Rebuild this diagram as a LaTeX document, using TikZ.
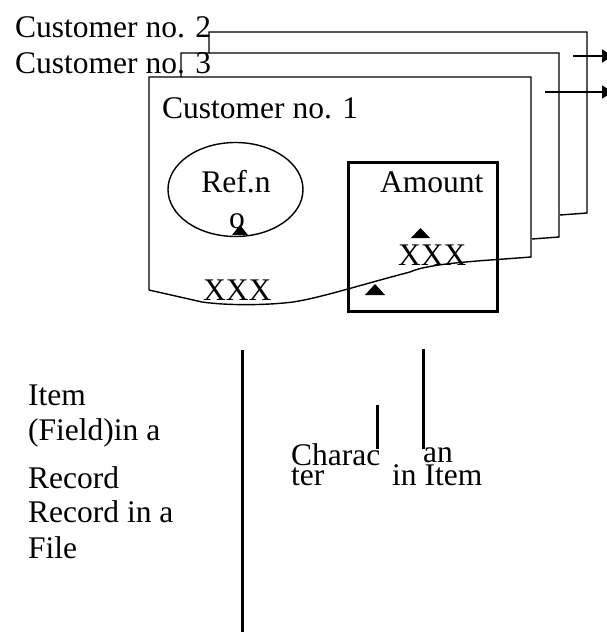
\documentclass[tikz,border=0pt]{standalone}
\usepackage{fontspec}
\setmainfont{Liberation Serif}
\usetikzlibrary{arrows.meta,shapes.geometric}
\tikzset{
  lbl/.style={anchor=base west,inner sep=0pt,font=\fontsize{31.5}{31.5}\selectfont},
  clbl/.style={anchor=base,inner sep=0pt,font=\fontsize{31.5}{31.5}\selectfont},
  tight/.style={anchor=base west,inner sep=0pt,align=left,font=\fontsize{31.5}{20}\selectfont},
  cardline/.style={line width=1.4pt,line join=miter},
  thickline/.style={line width=3pt},
  tri/.style={fill=black,draw=none},
  arr/.style={line width=1.4pt,-{Triangle[length=11pt,width=13pt]}}
}
\begin{document}
\begin{tikzpicture}[x=1pt,y=-1pt]
\useasboundingbox (0,0) rectangle (607,632);
% back cards
\draw[cardline] (209,53) -- (209,32) -- (587,32) -- (587,213) -- (560,215);
\draw[cardline] (181,77) -- (181,53) -- (559,53) -- (559,237) -- (532,239);
% front card
\draw[cardline] (149,290) -- (149,77) -- (531,77) -- (531,257)
  .. controls (480,261) and (430,263) .. (410,272)
  .. controls (360,285) and (320,298) .. (293,302)
  .. controls (270,305) and (230,306) .. (202,302)
  -- (149,290);
% arrows
\coordinate (a1s) at (573,56); \coordinate (a1e) at (613,56);
\coordinate (a2s) at (545,92); \coordinate (a2e) at (613,92);
\draw[arr] (a1s) -- (a1e);
\draw[arr] (a2s) -- (a2e);
% texts top
\node[lbl] (c2) at (15,37) {Customer no. 2};
\node[lbl] (c3) at (15,73) {Customer no. 3};
\node[lbl] (c1) at (162,118) {Customer no. 1};
% ellipse
\node[draw,ellipse,line width=1.4pt,minimum width=135pt,minimum height=94pt,inner sep=0pt] (refell) at (235.5,189.5) {};
\node[clbl] (refn) at (236,192) {Ref.n};
\node[clbl] (refo) at (237,228) {o};
\fill[tri] (232,235) -- (248,235) -- (240,225) -- cycle;
% amount box
\node[draw,thickline,minimum width=149pt,minimum height=149pt,inner sep=0pt] (amt) at (422.5,236.5) {};
\node[lbl] (amount) at (380,192) {Amount};
\fill[tri] (411,238) -- (430,238) -- (420.5,228) -- cycle;
\node[lbl] (xxx1) at (398,265) {XXX};
\fill[tri] (365,295) -- (385,295) -- (375,284) -- cycle;
\node[lbl] (xxx2) at (203,300) {XXX};
% lower lines
\coordinate (v1t) at (242,350); \coordinate (v1b) at (242,634);
\coordinate (v2t) at (377,405); \coordinate (v2b) at (377,449);
\coordinate (v3t) at (423,349); \coordinate (v3b) at (423,449);
\draw[thickline] (v1t) -- (v1b);
\draw[thickline] (v2t) -- (v2b);
\draw[thickline] (v3t) -- (v3b);
% left texts
\node[lbl] (t1) at (28,405) {Item};
\node[lbl] (t2) at (28,440) {(Field)in a};
\node[lbl] (t3) at (28,488) {Record};
\node[lbl] (t4) at (28,522) {Record in a};
\node[lbl] (t5) at (28,558) {File};
% middle texts
\node[tight] (m1) at (291,485) {Charac\\ter};
\node[tight] (m3) at (392,485) {\hspace{31pt}an\\in Item};
\end{tikzpicture}
\end{document}
